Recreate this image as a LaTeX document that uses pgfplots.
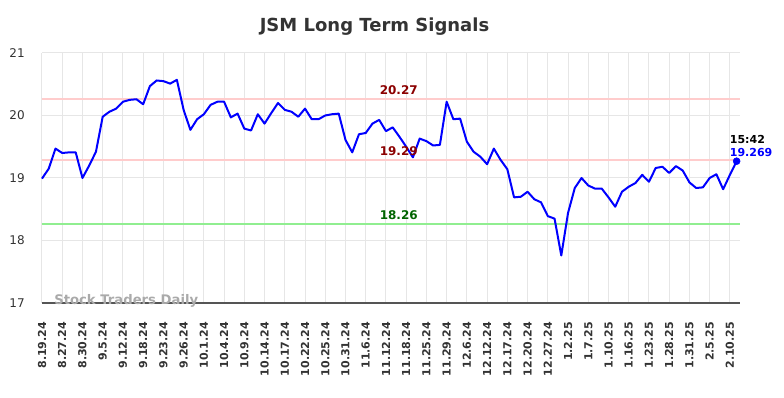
\documentclass[border=0pt]{standalone}
\usepackage{pgfplots}
\pgfplotsset{compat=1.18}
\usepackage{fontspec}
\setmainfont{DejaVu Sans}
\definecolor{gridc}{HTML}{E6E6E6}
\definecolor{axisc}{HTML}{555555}
\definecolor{txtc}{HTML}{333333}
\definecolor{pinkl}{HTML}{FFCCCC}
\definecolor{greenl}{HTML}{90EE90}
\definecolor{dred}{HTML}{8B0000}
\definecolor{dgreen}{HTML}{006400}
\definecolor{wm}{HTML}{AAAAAA}
\begin{document}
\begin{tikzpicture}
\begin{axis}[
  name=ax,
  at={(0,0)}, anchor=south west,
  scale only axis,
  width=523.5pt, height=187.5pt,
  xmin=0, xmax=103.5, ymin=17, ymax=21,
  ytick={17,18,19,20,21},
  xtick={0,3,...,102},
  xticklabels={8.19.24,8.27.24,8.30.24,9.5.24,9.12.24,9.18.24,9.23.24,9.26.24,10.1.24,10.4.24,10.9.24,10.14.24,10.17.24,10.22.24,10.25.24,10.31.24,11.6.24,11.12.24,11.18.24,11.25.24,11.29.24,12.6.24,12.12.24,12.17.24,12.20.24,12.27.24,1.2.25,1.7.25,1.10.25,1.16.25,1.23.25,1.28.25,1.31.25,2.5.25,2.10.25},
  grid=major,
  major grid style={draw=gridc, line width=0.75pt},
  major tick length=0pt,
  separate axis lines,
  axis x line*=bottom, axis y line*=left,
  x axis line style={draw=axisc, line width=1.1pt, -},
  y axis line style={draw=none},
  /pgf/number format/assume math mode=true,
  xticklabel style={rotate=90, anchor=east, inner sep=0pt, text=txtc, font=\bfseries\fontsize{8.25}{10}\selectfont},
  yticklabel style={anchor=east, inner sep=0pt, text=txtc, font=\fontsize{9}{11}\selectfont},
  xticklabel shift=14pt,
  yticklabel shift=12.75pt,
  clip=false,
]
\addplot[pinkl, line width=1.5pt, forget plot] coordinates {(0,20.27) (103.5,20.27)};
\addplot[pinkl, line width=1.5pt, forget plot] coordinates {(0,19.29) (103.5,19.29)};
\addplot[greenl, line width=1.5pt, forget plot] coordinates {(0,18.26) (103.5,18.26)};
\addplot[blue, line width=1.5pt, line join=round, mark=none] table {
x y
0 18.99
1 19.15
2 19.47
3 19.40
4 19.41
5 19.41
6 19.00
7 19.20
8 19.42
9 19.98
10 20.06
11 20.11
12 20.22
13 20.25
14 20.26
15 20.18
16 20.47
17 20.56
18 20.55
19 20.51
20 20.57
21 20.09
22 19.77
23 19.94
24 20.02
25 20.17
26 20.22
27 20.22
28 19.97
29 20.03
30 19.79
31 19.76
32 20.02
33 19.87
34 20.04
35 20.20
36 20.09
37 20.06
38 19.98
39 20.11
40 19.94
41 19.94
42 20.00
43 20.02
44 20.03
45 19.61
46 19.41
47 19.70
48 19.72
49 19.87
50 19.93
51 19.75
52 19.81
53 19.66
54 19.50
55 19.33
56 19.63
57 19.59
58 19.52
59 19.53
60 20.22
61 19.94
62 19.95
63 19.58
64 19.42
65 19.34
66 19.22
67 19.47
68 19.29
69 19.14
70 18.69
71 18.70
72 18.78
73 18.66
74 18.61
75 18.39
76 18.35
77 17.76
78 18.44
79 18.84
80 19.00
81 18.88
82 18.83
83 18.83
84 18.69
85 18.54
86 18.78
87 18.86
88 18.92
89 19.05
90 18.94
91 19.16
92 19.18
93 19.08
94 19.19
95 19.12
96 18.93
97 18.84
98 18.85
99 19.00
100 19.06
101 18.82
102 19.05
103 19.269
};
\addplot[blue, only marks, mark=*, mark size=2.6pt] coordinates {(103,19.269)};
\node[anchor=south, text=dred, font=\bfseries\fontsize{9}{11}\selectfont, inner sep=0pt, yshift=3pt] at (axis cs:52.9,20.27) {20.27};
\node[anchor=south, text=dred, font=\bfseries\fontsize{9}{11}\selectfont, inner sep=0pt, yshift=3pt] at (axis cs:52.9,19.29) {19.29};
\node[anchor=south, text=dgreen, font=\bfseries\fontsize{9}{11}\selectfont, inner sep=0pt, yshift=3pt] at (axis cs:52.9,18.26) {18.26};
\node[anchor=south west, text=blue, font=\bfseries\fontsize{8.25}{10}\selectfont, inner sep=0pt, xshift=-5.25pt, yshift=3pt] (lastv) at (axis cs:103,19.269) {19.269};
\node[anchor=south west, text=black, font=\bfseries\fontsize{8.25}{10}\selectfont, inner sep=0pt, yshift=3.2pt] at (lastv.north west) {15:42};
\node[anchor=west, text=wm, font=\bfseries\fontsize{9.9}{12}\selectfont, inner sep=0pt] at (axis cs:1.78,17.03) {Stock Traders Daily};
\end{axis}
\node[text=txtc, font=\bfseries\fontsize{13.5}{16}\selectfont, inner sep=0pt] at (249.4pt,207pt) {JSM Long Term Signals};
\pgfresetboundingbox
\path (-31.5pt,-71.25pt) rectangle (556.5pt,227.25pt);
\end{tikzpicture}
\end{document}
